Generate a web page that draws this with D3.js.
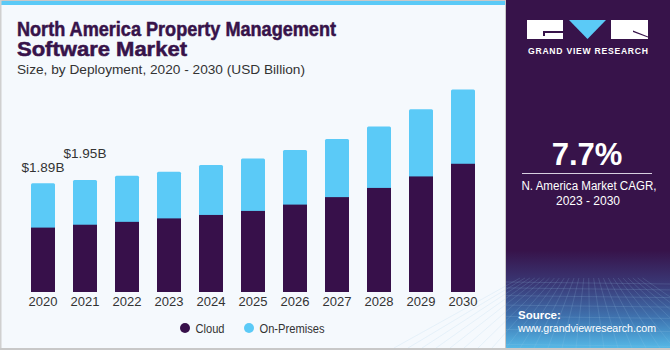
<!DOCTYPE html>
<html>
<head>
<meta charset="utf-8">
<script src="https://cdn.jsdelivr.net/npm/d3@7"></script>
<style>
  html, body { margin: 0; padding: 0; background: #fff; }
  svg { display: block; font-family: "Liberation Sans", Arial, sans-serif; }
</style>
</head>
<body>
<div id="chart"></div>
<script>
// data (USD billion)
const years = ["2020", "2021", "2022", "2023", "2024", "2025", "2026", "2027", "2028", "2029", "2030"];
const cloud = [1.12, 1.17, 1.22, 1.28, 1.34, 1.41, 1.52, 1.65, 1.81, 2.01, 2.23];
const onPremises = [0.77, 0.78, 0.80, 0.81, 0.87, 0.91, 0.95, 1.01, 1.07, 1.17, 1.29];
const valueLabels = [{ i: 0, text: "$1.89B" }, { i: 1, text: "$1.95B" }];
const seriesNames = ["Cloud", "On-Premises"];
const colors = ["#37104a", "#5bcaf7"];

const W = 670, H = 350, panelX = 506;
const svg = d3.select("#chart").append("svg").attr("width", W).attr("height", H);

// backgrounds
svg.append("rect").attr("width", W).attr("height", H).attr("fill", "#f5f9fd");
svg.append("rect").attr("x", 0).attr("y", 0).attr("width", panelX).attr("height", 1).attr("fill", "#c8c8c8");
svg.append("rect").attr("x", 0).attr("y", 1).attr("width", panelX).attr("height", 4).attr("fill", "#5bcaf7");
svg.append("rect").attr("x", 0).attr("y", 0).attr("width", 1.5).attr("height", H).attr("fill", "#d0d0d0");
svg.append("rect").attr("x", 0).attr("y", H - 2).attr("width", W).attr("height", 2).attr("fill", "#c8c8c8");

// right panel
const defs = svg.append("defs");
const grad = defs.append("linearGradient").attr("id", "pg").attr("x1", 0).attr("y1", 0).attr("x2", 0).attr("y2", 1);
grad.append("stop").attr("offset", "0").attr("stop-color", "#37134a");
grad.append("stop").attr("offset", "0.72").attr("stop-color", "#37134a");
grad.append("stop").attr("offset", "0.82").attr("stop-color", "#3a3a78");
grad.append("stop").attr("offset", "0.92").attr("stop-color", "#3f78b4");
grad.append("stop").attr("offset", "1").attr("stop-color", "#55b8e6");
svg.append("rect").attr("x", panelX - 1).attr("y", 0).attr("width", 1).attr("height", H).attr("fill", "#c8c8c8");
svg.append("rect").attr("x", panelX).attr("y", 0).attr("width", W - panelX).attr("height", H - 2).attr("fill", "url(#pg)");

// faint grid texture near the bottom of the panel
const gridG = svg.append("g").attr("stroke", "#9fc8ea").attr("stroke-opacity", 0.25).attr("stroke-width", 0.7);
d3.range(0, 9).forEach(k => {
  const yy = 282 + k * k * 0.9 + k * 5;
  gridG.append("line").attr("x1", panelX).attr("x2", W).attr("y1", yy).attr("y2", yy + 2);
});
d3.range(-8, 18).forEach(k => {
  const xb = panelX + k * 14;
  gridG.append("line").attr("x1", 588 + (xb - 588) * 0.35).attr("y1", 278).attr("x2", xb).attr("y2", H - 2);
});

// logo
const logo = svg.append("g");
logo.append("rect").attr("x", 527).attr("y", 20).attr("width", 36).attr("height", 19).attr("fill", "#fff");
logo.append("path").attr("d", "M543,31 H563 V33 H545 V36 H543 Z").attr("fill", "#37134a");
logo.append("path").attr("d", "M569,20 L606,20 L587.5,39 Z").attr("fill", "#5bcaf7");
logo.append("rect").attr("x", 611).attr("y", 20).attr("width", 37).attr("height", 19).attr("fill", "#fff");
logo.append("path").attr("d", "M633,30.5 L648,36.5 L648,37.5 L633,32 Z").attr("fill", "#37134a");
svg.append("text").attr("x", 588).attr("y", 54).attr("text-anchor", "middle")
  .attr("fill", "#fff").attr("font-size", 8.6).attr("font-weight", "bold")
  .attr("textLength", 120).attr("lengthAdjust", "spacing")
  .text("GRAND VIEW RESEARCH");

// CAGR
svg.append("text").attr("x", 587).attr("y", 165).attr("text-anchor", "middle")
  .attr("fill", "#fff").attr("font-size", 31).attr("font-weight", "bold").text("7.7%");
svg.append("line").attr("x1", 522).attr("x2", 652).attr("y1", 173.5).attr("y2", 173.5)
  .attr("stroke", "#d8d0e0").attr("stroke-width", 1);
svg.append("text").attr("x", 589).attr("y", 189.5).attr("text-anchor", "middle")
  .attr("fill", "#fff").attr("font-size", 12).attr("textLength", 135).attr("lengthAdjust", "spacingAndGlyphs")
  .text("N. America Market CAGR,");
svg.append("text").attr("x", 588).attr("y", 205).attr("text-anchor", "middle")
  .attr("fill", "#fff").attr("font-size", 12).text("2023 - 2030");

// source
svg.append("text").attr("x", 518).attr("y", 319).attr("fill", "#fff")
  .attr("font-size", 11.5).attr("font-weight", "bold").text("Source:");
svg.append("text").attr("x", 518).attr("y", 332).attr("fill", "#fff")
  .attr("font-size", 11.5).attr("textLength", 138).attr("lengthAdjust", "spacingAndGlyphs")
  .text("www.grandviewresearch.com");

// titles
svg.append("text").attr("x", 17).attr("y", 35.5).attr("fill", "#37134a")
  .attr("font-size", 19.5).attr("font-weight", "bold").attr("stroke", "#37134a").attr("stroke-width", 0.5)
  .attr("textLength", 319).attr("lengthAdjust", "spacingAndGlyphs")
  .text("North America Property Management");
svg.append("text").attr("x", 17).attr("y", 56).attr("fill", "#37134a")
  .attr("font-size", 19.5).attr("font-weight", "bold").attr("stroke", "#37134a").attr("stroke-width", 0.5)
  .attr("textLength", 170).attr("lengthAdjust", "spacingAndGlyphs")
  .text("Software Market");
svg.append("text").attr("x", 17).attr("y", 74).attr("fill", "#333")
  .attr("font-size", 13).attr("textLength", 288).attr("lengthAdjust", "spacingAndGlyphs")
  .text("Size, by Deployment, 2020 - 2030 (USD Billion)");

// scales
const x = d3.scaleBand().domain(years).range([22, 484]).paddingInner(18 / 42).paddingOuter(9 / 42);
const y = d3.scaleLinear().domain([0, 3.6]).range([292, 292 - 3.6 * 57.5]);

const rows = years.map((yr, i) => ({ year: yr, Cloud: cloud[i], "On-Premises": onPremises[i] }));
const stacked = d3.stack().keys(seriesNames)(rows);

const barsG = svg.append("g");
// draw on-premises first (rounded top) then cloud over it
[1, 0].forEach(si => {
  barsG.append("g").attr("fill", colors[si])
    .selectAll("rect").data(stacked[si]).join("rect")
    .attr("x", d => x(d.data.year))
    .attr("width", x.bandwidth())
    .attr("y", d => y(d[1]))
    .attr("height", d => si === 1 ? y(d[0]) - y(d[1]) + 3 : y(d[0]) - y(d[1]))
    .attr("rx", si === 1 ? 1.5 : 0);
});

// x axis
const xAxis = svg.append("g").attr("transform", "translate(0,292)")
  .call(d3.axisBottom(x).tickSize(0).tickPadding(5));
xAxis.select(".domain").remove();
xAxis.selectAll("text").attr("font-size", 13).attr("fill", "#333").attr("font-family", "Liberation Sans, Arial, sans-serif");

// value labels; a label is lifted when it would collide with the previous one
let prevY = Infinity;
svg.append("g").selectAll("text").data(valueLabels).join("text")
  .attr("x", d => x(years[d.i]) + x.bandwidth() / 2)
  .attr("y", d => {
    let ly = y(cloud[d.i] + onPremises[d.i]) - 11;
    if (ly > prevY - 14) ly = prevY - 14;
    prevY = ly;
    return ly;
  })
  .attr("text-anchor", "middle").attr("font-size", 13.5).attr("fill", "#333")
  .text(d => d.text);

// legend
const legend = svg.append("g").attr("transform", "translate(0,328)");
const legX = [185, 249];
seriesNames.forEach((n, i) => {
  legend.append("circle").attr("cx", legX[i]).attr("cy", 0).attr("r", 5).attr("fill", colors[i]);
  legend.append("text").attr("x", legX[i] + 10.5).attr("y", 4.5).attr("font-size", 12).attr("fill", "#333")
    .attr("textLength", i === 0 ? 29 : 65).attr("lengthAdjust", "spacingAndGlyphs").text(n);
});
</script>
</body>
</html>
